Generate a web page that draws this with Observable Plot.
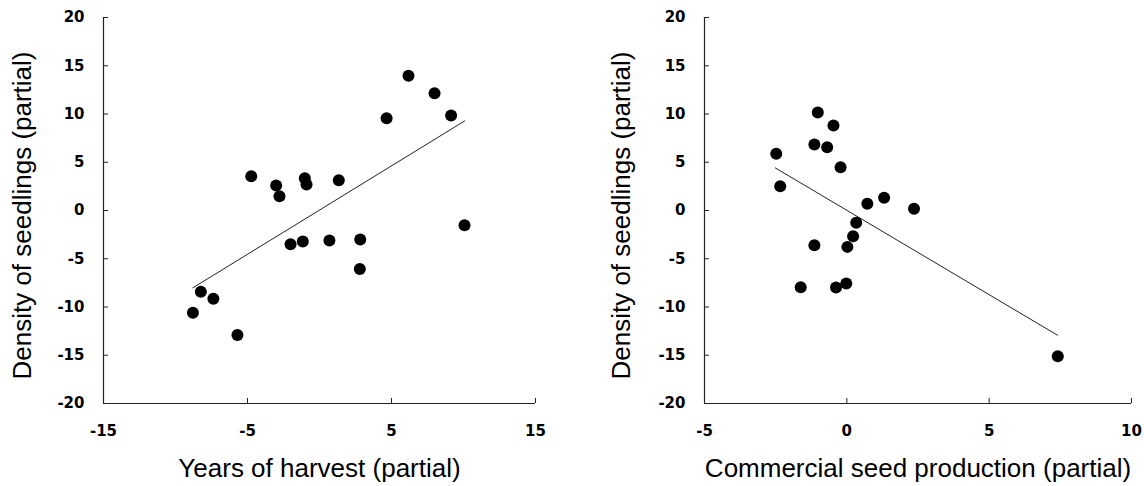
<!DOCTYPE html>
<html>
<head>
<meta charset="utf-8">
<script src="https://cdn.jsdelivr.net/npm/d3@7"></script>
<script src="https://cdn.jsdelivr.net/npm/@observablehq/plot@0.6"></script>
<style>
  html, body { margin: 0; padding: 0; background: #fff; }
  #wrap { display: flex; width: 1144px; height: 486px; }
</style>
</head>
<body>
<div id="wrap"></div>
<script>
// ---- Data ----
const yTitle = "Density of seedlings (partial)";
const yTicks = [-20, -15, -10, -5, 0, 5, 10, 15, 20];

// Left panel: Years of harvest (partial)
const leftTitle = "Years of harvest (partial)";
const leftTicks = [-15, -5, 5, 15];
const leftX = [-8.79, -8.24, -7.37, -5.70, -4.74, -3.01, -2.78, -2.01, -1.16, -1.02, -0.90, 0.69, 1.34, 2.83, 2.80, 4.66, 6.18, 7.99, 9.14, 10.07];
const leftY = [-10.59, -8.42, -9.15, -12.9, 3.55, 2.59, 1.48, -3.49, -3.21, 3.35, 2.69, -3.11, 3.14, -3.01, -6.05, 9.56, 13.97, 12.14, 9.84, -1.52];
const leftFitX = [-8.79, 10.08];
const leftFitY = [-8.01, 9.28];

// Right panel: Commercial seed production (partial)
const rightTitle = "Commercial seed production (partial)";
const rightTicks = [-5, 0, 5, 10];
const rightX = [-1.02, -0.47, -1.14, -0.69, -2.48, -0.22, -2.34, 0.72, 1.31, 2.36, 0.33, 0.22, 0.02, -1.14, -1.62, -0.38, -0.02, 7.41];
const rightY = [10.16, 8.81, 6.84, 6.56, 5.87, 4.49, 2.52, 0.69, 1.31, 0.17, -1.28, -2.66, -3.77, -3.60, -7.95, -7.98, -7.57, -15.1];
const rightFitX = [-2.51, 7.40];
const rightFitY = [4.41, -12.92];

// ---- Drawing ----
const tickFont = "DejaVu Sans, Verdana, sans-serif";
const titleFont = "Liberation Sans, Arial, sans-serif";

function panel({xs, ys, fitX, fitY, xTicks, xTitle, marginLeft, marginRight, yLabelDx}) {
  const pts = xs.map((x, i) => ({x, y: ys[i]}));
  const fit = fitX.map((x, i) => ({x, y: fitY[i]}));
  const xDomain = [xTicks[0], xTicks[xTicks.length - 1]];
  const yDomain = [yTicks[0], yTicks[yTicks.length - 1]];
  return Plot.plot({
    width: 572,
    height: 486,
    marginLeft,
    marginRight,
    marginTop: 17,
    marginBottom: 83,
    style: {background: "#fff", color: "#000", overflow: "visible"},
    x: {domain: xDomain},
    y: {domain: yDomain},
    marks: [
      Plot.axisY({ticks: yTicks, tickSize: -5, tickPadding: 24, tickFormat: d => String(d),
        fontSize: 15, fontWeight: "bold", fontFamily: tickFont, label: null, stroke: "#222"}),
      Plot.axisX({ticks: xTicks, tickSize: -5, tickPadding: 27, tickFormat: d => String(d),
        fontSize: 15, fontWeight: "bold", fontFamily: tickFont, label: null, stroke: "#222"}),
      Plot.ruleX([xDomain[0]], {stroke: "#222", strokeWidth: 1.2}),
      Plot.ruleY([yDomain[0]], {stroke: "#222", strokeWidth: 1.2}),
      Plot.line(fit, {x: "x", y: "y", stroke: "#222", strokeWidth: 1}),
      Plot.dot(pts, {x: "x", y: "y", r: 6, fill: "#000", stroke: null}),
      Plot.text([yTitle], {text: d => d, frameAnchor: "left", dx: yLabelDx, dy: 5, rotate: -90,
        fontSize: 26, fontFamily: titleFont, textAnchor: "middle", lineAnchor: "middle", fill: "#000"}),
      Plot.text([xTitle], {text: d => d, frameAnchor: "bottom", dy: 65,
        fontSize: 26, fontFamily: titleFont, textAnchor: "middle", lineAnchor: "middle", fill: "#000"})
    ]
  });
}

const wrap = document.getElementById("wrap");
wrap.append(panel({xs: leftX, ys: leftY, fitX: leftFitX, fitY: leftFitY, xTicks: leftTicks, xTitle: leftTitle,
  marginLeft: 103, marginRight: 37, yLabelDx: -81}));
wrap.append(panel({xs: rightX, ys: rightY, fitX: rightFitX, fitY: rightFitY, xTicks: rightTicks, xTitle: rightTitle,
  marginLeft: 132, marginRight: 13, yLabelDx: -83}));
</script>
</body>
</html>
